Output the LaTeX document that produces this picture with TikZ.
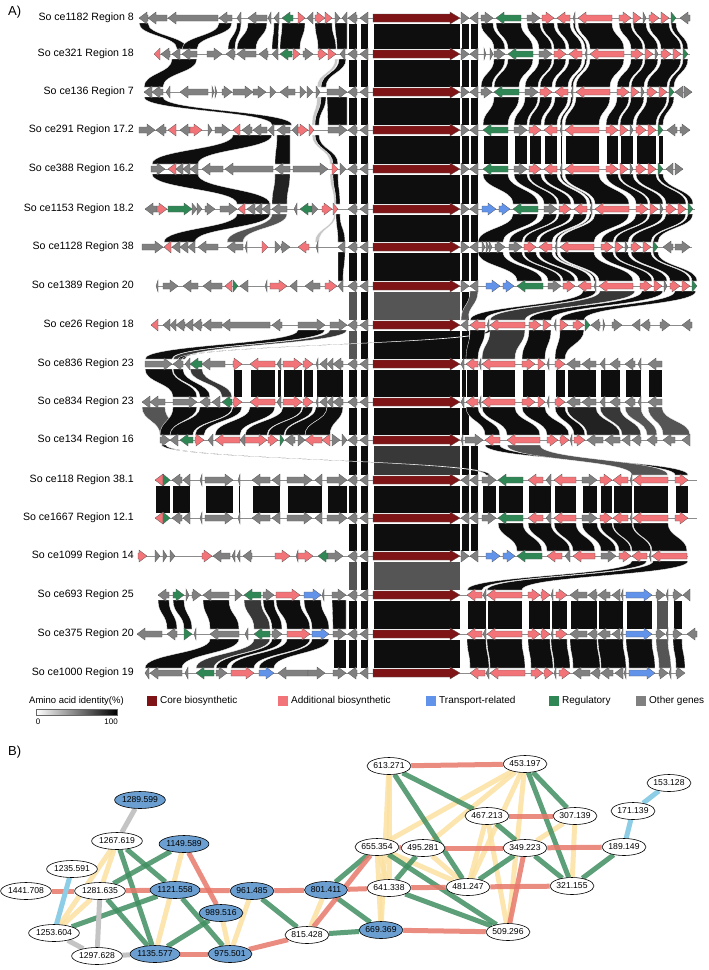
\documentclass[tikz,border=0pt]{standalone}
\usepackage{fontspec}
\setmainfont{Liberation Sans}
\usetikzlibrary{shapes.geometric,backgrounds}
\definecolor{oth}{HTML}{808080}
\definecolor{add}{HTML}{F27479}
\definecolor{reg}{HTML}{2E8755}
\definecolor{tra}{HTML}{6193EA}
\definecolor{core}{HTML}{7E1416}
\definecolor{blk}{HTML}{0E0E0E}
\definecolor{g22}{HTML}{222222}
\definecolor{g33}{HTML}{383838}
\definecolor{g55}{HTML}{555555}
\definecolor{lgr}{HTML}{C8C8C8}
\definecolor{nblue}{HTML}{6B9FD1}
\definecolor{ered}{HTML}{E8786B}
\definecolor{egreen}{HTML}{3F8E60}
\definecolor{eyellow}{HTML}{FBE1A0}
\definecolor{egrey}{HTML}{C4C4C4}
\definecolor{eblue}{HTML}{8DCDE5}

\tikzset{
  genebox/.style={draw=black!65, line width=0.3pt},
  backbone/.style={draw=black!45, line width=0.5pt},
  rowlabel/.style={anchor=east, inner sep=0pt, font=\fontsize{10.6}{12}\selectfont},
  legtext/.style={anchor=west, inner sep=0pt, font=\fontsize{10}{12}\selectfont},
  panel/.style={anchor=west, inner sep=0pt, font=\fontsize{13}{15}\selectfont},
  nd/.style={ellipse, draw=black, line width=0.6pt, fill=white, minimum width=43pt,
    minimum height=17pt, inner sep=0pt, font=\fontsize{8.6}{9}\selectfont},
  nb/.style={nd, fill=nblue},
  ered/.style={draw=ered, line width=5pt, opacity=.85},
  egreen/.style={draw=egreen, line width=5pt, opacity=.85},
  eyellow/.style={draw=eyellow, line width=5pt, opacity=.85},
  egrey/.style={draw=egrey, line width=5pt},
  eblue/.style={draw=eblue, line width=5pt}
}

% one gene arrow from tail #1 to head #2 on row #3
\newcommand{\gene}[4]{%
  \pgfmathsetmacro{\gl}{(#2)-(#1)}%
  \pgfmathsetmacro{\gh}{abs(\gl)<9 ? (#1) : (#2)-8*sign(\gl)}%
  \path[genebox, fill=#4] ({#1},{#3-3}) -- (\gh,{#3-3}) -- (\gh,{#3-6}) -- ({#2},{#3})
    -- (\gh,{#3+6}) -- (\gh,{#3+3}) -- ({#1},{#3+3}) -- cycle;}
\newcommand{\coregene}[3]{%
  \path[genebox, fill=core] ({#1},{#3-4}) -- ({#2-10},{#3-4}) -- ({#2-10},{#3-6}) -- ({#2},{#3})
    -- ({#2-10},{#3+6}) -- ({#2-10},{#3+4}) -- ({#1},{#3+4}) -- cycle;}
\newcommand{\genes}[2]{\foreach \xa/\xb/\cl in {#2}{\gene{\xa}{\xb}{#1}{\cl}}}
% similarity band between two rows
\newcommand{\lnk}[7]{%
  \pgfmathsetmacro{\ym}{(#3+#6)/2}%
  \path[fill=#7, draw=white, line width=0.3pt] ({#1},{#3+5}) -- ({#2},{#3+5})
    .. controls ({#2},\ym) and ({#5},\ym) .. ({#5},{#6-5}) -- ({#4},{#6-5})
    .. controls ({#4},\ym) and ({#1},\ym) .. cycle;}
\newcommand{\lnks}[3]{\foreach \pa/\pb/\qa/\qb/\cl in {#3}{\lnk{\pa}{\pb}{#1}{\qa}{\qb}{#2}{\cl}}}
% right-hand cluster, rows 1--8
\newcommand{\stdgenes}[2]{\foreach \xa/\xb/\cl in {31/44/oth,46/58/add,74/61/add,79/77/oth,116/82/add,
    123/135/add,137/145/add,147/150/oth,153/163/add,165/173/add,175/180/reg}{\gene{#1+\xa}{#1+\xb}{#2}{\cl}}}
\newcommand{\stdlinks}[4]{\foreach \pa/\pb in {0/25,31/44,46/58,61/74,77/79,82/116,123/135,137/150,153/173,175/180}%
  {\lnk{#1+\pa}{#1+\pb}{#2}{#3+\pa}{#3+\pb}{#4}{blk}}}
% right-hand cluster, rows 13--15
\newcommand{\altgenes}[2]{\foreach \xa/\xb/\cl in {25/0/reg,45/30/add,53/48/oth,78/56/add,84/99/oth,
    102/114/add,130/115/add,134/132/oth,170/135/add}{\gene{#1+\xa}{#1+\xb}{#2}{\cl}}}
\newcommand{\altlinks}[4]{\foreach \pa/\pb in {0/25,30/53,56/78,84/99,102/114,115/134,135/170}%
  {\lnk{#1+\pa}{#1+\pb}{#2}{#3+\pa}{#3+\pb}{#4}{blk}}}
% rows 10 and 11 from the pink genes on
\newcommand{\midgenes}[1]{\genes{#1}{233/242/add,275/250/add,281/277/oth,283/302/add,303/313/add,318/316/oth,
    327/320/oth,333/327/oth,343/333/oth,464/461/oth,478/466/add,481/479/oth,515/482/add,522/535/add,538/545/add,
    549/547/oth,555/565/add,580/567/oth,596/582/oth,605/600/oth,620/610/oth,635/625/oth,641/638/oth,662/648/oth}}
% right-hand cluster, rows 16--18
\newcommand{\lowgenes}[2]{\foreach \xa/\xb/\cl in {482/467/add,486/483/oth,522/487/add,528/540/add,541/550/add,
    553/551/oth,556/567/add,587/570/oth,597/588/oth,610/598/oth,620/612/oth,623/621/oth,626/652/tra,
    656/665/oth,668/666/oth,673/682/oth}{\gene{#1+\xa}{#1+\xb}{#2}{\cl}}}
\newcommand{\lowlinks}[4]{\foreach \pa/\pb/\cl in {467/486/blk,487/522/blk,528/550/blk,551/567/blk,570/597/blk,
    598/623/blk,626/652/blk,656/668/g55,673/682/blk}%
  {\lnk{#1+\pa}{#1+\pb}{#2}{#3+\pa}{#3+\pb}{#4}{\cl}}}
% genes next to the core gene
\newcommand{\coreset}[1]{\gene{357}{348}{#1}{oth}\gene{368}{360}{#1}{oth}\coregene{373}{460}{#1}}

\begin{document}
\begin{tikzpicture}[x=1pt,y=-1pt]
\useasboundingbox (0,0) rectangle (709,970);

% ---------------- A) similarity bands
\foreach \ya/\yb/\cc/\cn in {18/54/blk/blk,54/92/blk/blk,92/130/blk/blk,130/169/blk/blk,169/209/blk/blk,
    209/247/blk/blk,247/286/blk/blk,286/325/g55/g55,325/364/blk/g55,364/402/blk/blk,402/440/blk/blk,
    440/480/g33/blk,480/518/blk/blk,518/556/blk/blk,556/595/g55/g55,595/634/blk/blk,634/673/blk/blk}{
  \lnk{373}{460}{\ya}{373}{460}{\yb}{\cc}
  \lnk{348}{357}{\ya}{348}{357}{\yb}{\cn}
  \lnk{360}{368}{\ya}{360}{368}{\yb}{blk}
}
\foreach \ya/\yb in {18/54,54/92,92/130,130/169,169/209,209/247,247/286,286/325,325/364,364/402,402/440,
    440/480,480/518,518/556}{\lnk{461}{469}{\ya}{461}{469}{\yb}{blk}}
\foreach \ya/\yb in {18/54,54/92,92/130,130/169,169/209,209/247,247/286,440/480,480/518,518/556}%
  {\lnk{470}{478}{\ya}{470}{478}{\yb}{blk}}
\lnk{470}{478}{286}{461}{468}{325}{g55}

% left side
\lnks{18}{54}{139/148/177/187/blk,219/232/182/197/blk,237/241/228/235/blk,248/267/237/256/blk,
  274/279/272/278/blk,282/305/280/300/blk,315/332/318/336/blk,335/347/337/347/blk}
\lnks{54}{92}{172/197/144/163/blk,335/338/317/321/lgr,339/346/321/326/blk}
\lnks{92}{130}{144/163/272/292/blk,317/321/312/315/lgr,321/326/315/319/blk,327/347/328/347/blk}
\lnks{130}{169}{233/272/152/198/blk,277/290/275/290/blk,312/315/330/333/lgr,315/319/333/338/blk}
\lnks{169}{209}{152/198/237/270/blk,275/290/272/287/g22,330/333/334/336/lgr,333/338/336/340/blk}
\lnks{209}{247}{237/270/164/195/blk,272/287/227/243/g55,334/336/315/319/lgr,336/340/338/345/blk}
\lnks{247}{286}{338/345/338/343/blk}
\lnks{325}{364}{298/325/145/172/blk,330/347/173/185/g33,488/492/178/182/blk}
\lnks{364}{402}{145/172/173/197/blk,173/183/200/210/blk,190/202/222/232/g33,233/242/233/242/blk,
  250/275/250/275/blk,277/281/277/281/blk,283/302/283/302/blk,303/313/303/313/blk,316/343/316/343/blk}
\lnks{402}{440}{142/165/160/178/g55,173/197/160/170/blk,200/232/170/193/blk,233/242/195/204/blk,
  250/275/215/240/blk,283/302/245/267/blk,303/313/268/284/blk,316/327/285/305/blk,327/343/305/330/blk}
\lnks{440}{480}{162/166/486/490/blk}
\lnks{480}{518}{155/170/155/170/blk,172/190/172/190/blk,205/233/205/233/blk,238/240/238/240/blk,
  252/280/252/280/blk,287/322/287/322/blk,327/347/327/347/blk}
\lnks{595}{634}{158/169/167/177/blk,173/184/184/192/blk,203/229/210/239/blk,244/261/254/270/g33,
  263/274/272/282/blk,276/300/287/310/blk,304/321/312/329/blk,332/346/333/346/blk}
\lnks{634}{673}{210/239/145/182/blk,254/270/196/214/g33,272/282/216/227/blk,287/310/231/254/blk,
  312/329/259/274/blk,333/346/333/346/blk}

% right side
\lnks{18}{54}{481/493/494/505/blk}
\lnks{54}{92}{494/505/481/492/blk}
\stdlinks{496}{18}{508}{54}
\stdlinks{508}{54}{494}{92}
\stdlinks{494}{92}{483}{130}
\stdlinks{483}{130}{483}{169}
\stdlinks{483}{169}{513}{209}
\stdlinks{513}{209}{478}{247}
\stdlinks{478}{247}{517}{286}
\lnks{286}{325}{583/596/470/485/blk,600/635/490/525/g33,642/663/529/551/blk,675/696/560/584/blk}
\lnks{325}{364}{470/485/466/478/blk,490/525/482/515/g33,529/551/522/545/blk,560/584/555/565/blk}
\lnks{364}{402}{466/478/466/478/blk,482/515/482/515/blk,522/545/522/545/blk,555/565/555/565/blk,
  567/596/567/596/blk,600/620/600/620/blk,625/641/625/641/blk,648/662/648/662/blk}
\lnks{402}{440}{466/478/485/500/blk,482/515/507/540/blk,522/545/547/569/blk,555/565/574/585/blk,
  567/596/587/620/g22,600/620/622/641/g33,625/641/647/657/g55,648/662/663/690/g55}
\lnks{440}{480}{485/500/675/688/blk,507/540/632/668/g55}
\altlinks{498}{480}{498}{518}
\lnks{480}{518}{482/496/482/496/blk,675/688/675/688/blk}
\altlinks{498}{518}{517}{556}
\lnks{556}{595}{632/647/467/482/blk,653/688/487/522/blk}
\lowlinks{0}{595}{0}{634}
\lowlinks{0}{634}{3}{673}

% ---------------- A) rows
\foreach \y/\xs/\xe in {18/139/690,54/154/690,92/144/692,130/139/690,169/151/683,209/145/695,247/142/692,
    286/156/696,325/151/692,364/145/662,402/142/662,440/160/690,480/155/697,518/155/697,556/138/688,
    595/158/690,634/137/697,673/145/684}{\draw[backbone] (\xs,\y) -- (\xe,\y);}
\foreach \y in {18,54,92,130,169,209,247,286,325,364,402,440,480,518,556,595,634,673}{\coreset{\y}}

\genes{18}{148/139/oth,167/148/oth,218/168/oth,232/219/oth,241/237/oth,267/248/oth,271/268/oth,279/274/oth,
  293/282/reg,298/305/add,313/307/oth,315/325/add,325/332/add,335/340/oth,347/342/oth,
  461/469/oth,478/470/oth,481/493/oth,521/496/reg,690/680/oth}
\stdgenes{496}{18}
\genes{54}{160/154/add,170/161/oth,180/172/oth,197/182/oth,207/222/oth,235/226/oth,256/237/oth,268/259/oth,
  278/272/oth,292/280/reg,293/300/add,303/313/oth,318/327/add,328/336/add,345/340/oth,
  461/469/oth,478/470/oth,484/486/oth,490/493/oth,494/505/oth,533/508/reg}
\stdgenes{508}{54}
\genes{92}{152/144/oth,163/152/oth,170/166/oth,208/180/oth,212/214/oth,215/217/oth,222/232/oth,233/253/oth,
  253/266/oth,270/276/oth,295/280/oth,300/306/oth,307/313/oth,316/320/oth,327/347/oth,
  461/469/oth,478/470/oth,481/492/oth,519/494/reg,683/675/oth,684/692/oth}
\stdgenes{494}{92}
\genes{130}{139/155/oth,166/156/oth,176/168/add,190/180/oth,190/202/add,208/212/oth,215/230/oth,240/233/add,
  252/242/oth,267/253/oth,274/268/oth,290/277/oth,298/292/oth,298/308/add,309/314/add,328/347/oth,
  461/469/oth,478/470/oth,508/483/reg,677/667/oth,680/690/oth}
\stdgenes{483}{130}
\genes{169}{151/165/oth,176/168/add,183/176/oth,190/183/oth,198/190/oth,223/202/oth,273/225/oth,290/275/oth,
  293/328/oth,332/338/add,340/346/oth,461/469/oth,478/470/oth,508/483/reg,673/666/oth,675/683/oth}
\stdgenes{483}{169}
\genes{209}{157/145/oth,157/167/add,168/192/reg,192/197/oth,197/202/oth,205/215/oth,220/237/oth,245/238/add,
  255/247/oth,262/255/oth,270/262/oth,287/272/oth,297/294/oth,312/300/reg,312/318/oth,322/332/add,333/338/add,
  461/469/oth,478/470/oth,482/496/tra,499/510/tra,538/513/reg}
\stdgenes{513}{209}
\genes{247}{142/163/oth,171/164/add,180/172/oth,188/180/oth,195/188/oth,218/198/oth,243/227/oth,247/245/oth,
  262/268/add,275/281/oth,281/290/oth,309/298/add,318/316/oth,345/338/oth,
  461/469/oth,478/470/oth,482/485/oth,486/489/oth,489/492/oth,495/505/oth,673/663/oth,675/690/oth}
\stdgenes{478}{247}
\genes{286}{158/156/oth,163/178/oth,198/183/oth,222/203/oth,232/225/add,233/238/reg,248/240/oth,267/265/oth,
  270/287/add,297/290/oth,320/305/oth,325/337/add,343/338/oth,
  461/469/oth,478/470/oth,486/500/tra,503/514/tra,543/517/reg}
\stdgenes{517}{286}
\genes{325}{158/151/add,170/163/oth,176/170/oth,185/176/oth,193/185/oth,202/193/oth,222/203/oth,270/222/oth,
  282/272/oth,298/325/oth,330/347/oth,
  468/461/oth,485/470/add,489/487/oth,525/490/add,529/541/add,543/551/add,556/554/oth,560/568/add,573/584/add,
  585/590/reg,600/591/oth,603/605/oth,612/622/oth,640/632/oth,650/641/oth,660/670/oth,692/682/oth}
\genes{364}{145/172/oth,183/173/oth,190/185/oth,202/190/reg,225/202/oth}
\midgenes{364}
\genes{402}{150/142/oth,165/150/oth,173/197/oth,210/200/oth,220/212/oth,232/222/reg}
\midgenes{402}
\genes{440}{160/170/oth,178/170/oth,193/180/reg,195/204/add,213/208/oth,240/215/add,245/240/oth,245/267/add,
  268/278/add,280/284/reg,295/285/oth,298/305/oth,322/305/add,330/322/add,332/340/oth,342/347/oth,
  463/461/oth,465/483/oth,500/485/add,540/507/add,547/558/add,560/569/add,572/570/oth,574/585/add,603/587/oth,
  620/605/oth,630/622/oth,641/632/oth,657/647/oth,675/663/oth,690/682/oth}
\foreach \y in {480,518}{
  \genes{\y}{163/155/add,163/170/reg,182/172/oth,190/183/oth,202/200/oth,205/233/oth,240/238/oth,270/252/oth,
    280/272/oth,287/312/oth,322/315/oth,327/347/oth,469/461/oth,478/470/oth,482/496/oth,675/688/add}
  \altgenes{498}{\y}
}
\genes{556}{138/147/add,155/160/oth,163/167/oth,170/175/oth,202/212/add,230/213/oth,235/232/oth,240/237/oth,
  252/243/oth,275/290/add,298/296/oth,298/313/add,328/318/reg,328/343/oth,
  461/469/oth,478/470/oth,486/500/tra,503/515/tra}
\altgenes{517}{556}
\genes{595}{169/158/oth,173/184/reg,186/189/oth,192/201/oth,229/203/oth,235/242/oth,261/244/reg,263/274/oth,
  276/300/add,304/321/tra,324/322/oth,332/346/oth,690/683/oth}
\lowgenes{0}{595}
\genes{634}{162/137/oth,177/167/oth,184/192/reg,196/194/oth,239/210/oth,248/245/oth,270/254/reg,272/282/oth,
  287/310/add,312/329/tra,333/346/oth,697/687/oth}
\lowgenes{0}{634}
\genes{673}{149/145/oth,182/150/oth,188/185/oth,214/196/reg,216/227/oth,231/254/add,259/274/tra,308/278/oth,
  308/325/oth,333/346/oth}
\lowgenes{3}{673}

% row labels
\foreach \y/\txt in {18/So ce1182 Region 8,54/So ce321 Region 18,92/So ce136 Region 7,130/So ce291 Region 17.2,
    169/So ce388 Region 16.2,209/So ce1153 Region 18.2,247/So ce1128 Region 38,286/So ce1389 Region 20,
    325/So ce26 Region 18,364/So ce836 Region 23,402/So ce834 Region 23,440/So ce134 Region 16,
    480/So ce118 Region 38.1,518/So ce1667 Region 12.1,556/So ce1099 Region 14,595/So ce693 Region 25,
    634/So ce375 Region 20,673/So ce1000 Region 19}{\node[rowlabel] at (134,\y) {\txt};}
\node[panel] (pa) at (8,12) {A)};

% legend
\node[legtext, font=\fontsize{9.5}{11}\selectfont] (legid) at (29,701) {Amino acid identity(\%)};
\shade[left color=white, right color=black, draw=black!60, line width=0.3pt] (36,709) rectangle (117,715);
\node[inner sep=0pt, font=\fontsize{8}{9}\selectfont] (leg0) at (38,722) {0};
\node[inner sep=0pt, anchor=east, font=\fontsize{8}{9}\selectfont] (leg100) at (118,722) {100};
\foreach \x/\cl/\txt/\nm in {147/core/Core biosynthetic/lcore,278/add/Additional biosynthetic/ladd,
    426/tra/Transport-related/ltra,549/reg/Regulatory/lreg,636/oth/Other genes/loth}{
  \fill[\cl] (\x,696) rectangle ++(10,10);
  \node[legtext] (\nm) at (\x+13,701) {\txt};
}

% ---------------- B) network
\node[panel] (pb) at (8,752) {B)};
\node[nb] (n1289) at (140,800) {1289.599};
\node[nd] (n1267) at (117,841) {1267.619};
\node[nb] (n1149) at (184,844) {1149.589};
\node[nd] (n1235) at (72,869) {1235.591};
\node[nd] (n1441) at (26,891) {1441.708};
\node[nd] (n1281) at (100,891) {1281.635};
\node[nb] (n1121) at (175,890) {1121.558};
\node[nb] (n961) at (252,891) {961.485};
\node[nb] (n801) at (326,890) {801.411};
\node[nb] (n989) at (221,913) {989.516};
\node[nd] (n1253) at (54,933) {1253.604};
\node[nd] (n815) at (307,935) {815.428};
\node[nd] (n1297) at (97,956) {1297.628};
\node[nb] (n1135) at (155,954) {1135.577};
\node[nb] (n975) at (230,954) {975.501};
\node[nd] (n613) at (389,766) {613.271};
\node[nd] (n453) at (525,764) {453.197};
\node[nd] (n153) at (669,783) {153.128};
\node[nd] (n171) at (633,811) {171.139};
\node[nd] (n467) at (487,816) {467.213};
\node[nd] (n307) at (575,816) {307.139};
\node[nd] (n655) at (377,847) {655.354};
\node[nd] (n495) at (423,848) {495.281};
\node[nd] (n349) at (525,848) {349.223};
\node[nd] (n189) at (624,847) {189.149};
\node[nd] (n641) at (389,888) {641.338};
\node[nd] (n481) at (468,887) {481.247};
\node[nd] (n321) at (572,886) {321.155};
\node[nb] (n669) at (381,930) {669.369};
\node[nd] (n509) at (508,932) {509.296};

\begin{pgfonlayer}{background}
  \foreach \a/\b in {n1267/n1253,n1281/n1253,n1267/n1281,n1149/n1135,n975/n961,n975/n989,n815/n801,
      n613/n669,n613/n641,n453/n495,n453/n481,n453/n509,n453/n655,n467/n481,n467/n509,n307/n321,n307/n349,
      n655/n669,n655/n641,n655/n481,n495/n481}{\draw[eyellow] (\a) -- (\b);}
  \foreach \a/\b in {n1267/n1135,n1267/n1121,n1121/n975,n1281/n1149,n1281/n1135,n1253/n1121,n1135/n989,
      n961/n815,n815/n669,n801/n655,n801/n669,n613/n481,n613/n467,n467/n349,n349/n321,n453/n321,n453/n307,
      n495/n641,n655/n509,n641/n509,n349/n481,n189/n321}{\draw[egreen] (\a) -- (\b);}
  \foreach \a/\b in {n1441/n1281,n1281/n1121,n1121/n961,n961/n801,n801/n641,n641/n481,n481/n321,n1135/n975,
      n1149/n989,n975/n815,n815/n655,n669/n509,n655/n495,n495/n349,n349/n189,n613/n453,n467/n307,
      n349/n509}{\draw[ered] (\a) -- (\b);}
  \foreach \a/\b in {n1289/n1267,n1253/n1297,n1281/n1297,n1297/n1135}{\draw[egrey] (\a) -- (\b);}
  \foreach \a/\b in {n1235/n1253,n189/n171,n171/n153}{\draw[eblue] (\a) -- (\b);}
\end{pgfonlayer}
\end{tikzpicture}
\end{document}
